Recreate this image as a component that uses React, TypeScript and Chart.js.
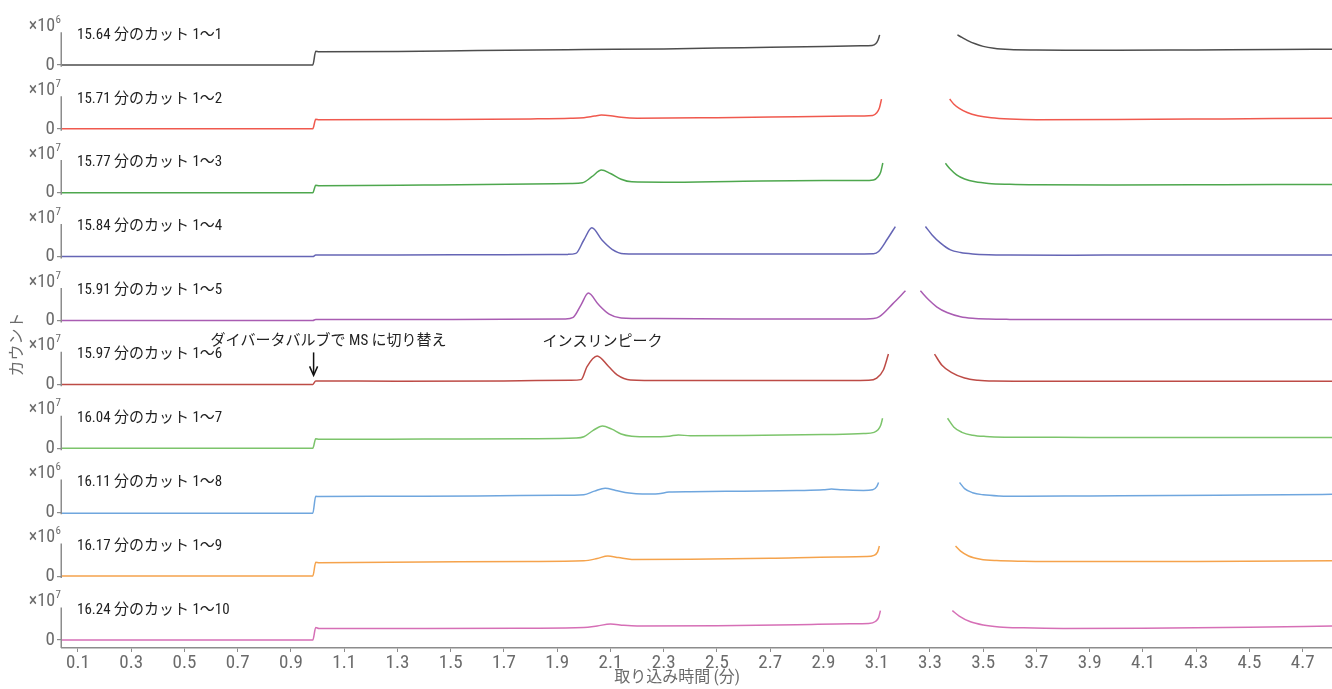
import { useEffect, useRef } from 'react';
import { Chart, registerables } from 'chart.js';

Chart.register(...registerables);

const FONT = "'Roboto Condensed', 'Liberation Sans Narrow', 'DejaVu Sans Condensed', 'Noto Sans CJK JP', sans-serif";
const TEXT_FONT = "'Roboto Condensed', 'Liberation Sans Narrow', 'Noto Sans CJK JP', sans-serif";
const TICK_COLOR = '#6b6b6b';
const AXIS_COLOR = '#8c8c8c';

const PANEL_LABELS = [
  '15.64 分のカット 1〜1',
  '15.71 分のカット 1〜2',
  '15.77 分のカット 1〜3',
  '15.84 分のカット 1〜4',
  '15.91 分のカット 1〜5',
  '15.97 分のカット 1〜6',
  '16.04 分のカット 1〜7',
  '16.11 分のカット 1〜8',
  '16.17 分のカット 1〜9',
  '16.24 分のカット 1〜10',
];
const EXPONENTS = [6, 7, 7, 7, 7, 7, 7, 6, 6, 7];
const SERIES_COLORS = ['#4d4d4d', '#f0594e', '#4ea74e', '#6565b5', '#a95cb2', '#bd4b46', '#7cc46b', '#6fa6de', '#f5a34c', '#d66fb6'];
const X_TICKS = [0.1, 0.3, 0.5, 0.7, 0.9, 1.1, 1.3, 1.5, 1.7, 1.9, 2.1, 2.3, 2.5, 2.7, 2.9, 3.1, 3.3, 3.5, 3.7, 3.9, 4.1, 4.3, 4.5, 4.7];
const X_MIN = 0.04;
const X_MAX = 4.81;
const Y_MIN = -0.25;
const Y_MAX = 1.75;
const SWITCH_TIME = 0.985;
const PEAK_TIME = 2.07;
const X_TITLE = '取り込み時間 (分)';
const Y_TITLE = 'カウント';
const SWITCH_NOTE = 'ダイバータバルブで MS に切り替え';
const PEAK_NOTE = 'インスリンピーク';

type Pt = [number, number | null];

const CUT1: Pt[] = [[0.04,0],[0.982,0],[0.993,0.43],[1.005,0.41],[1.3,0.42],[1.6,0.45],[2.0,0.48],[2.3,0.50],[2.6,0.54],[2.9,0.58],[3.04,0.60],[3.083,0.61],[3.096,0.66],[3.105,0.78],[3.111,0.94],[3.25,null],[3.403,0.94],[3.42,0.86],[3.44,0.77],[3.47,0.66],[3.50,0.58],[3.54,0.52],[3.6,0.48],[3.7,0.465],[3.85,0.46],[4.0,0.46],[4.3,0.47],[4.6,0.48],[4.81,0.49]];
const CUT2: Pt[] = [[0.04,0],[0.982,0],[0.993,0.30],[1.005,0.28],[1.4,0.29],[1.8,0.31],[1.95,0.33],[2.0,0.35],[2.04,0.40],[2.066,0.43],[2.1,0.41],[2.14,0.36],[2.2,0.33],[2.5,0.35],[2.8,0.38],[3.0,0.40],[3.085,0.42],[3.1,0.50],[3.11,0.65],[3.118,0.93],[3.25,null],[3.374,0.93],[3.39,0.77],[3.41,0.64],[3.44,0.51],[3.48,0.41],[3.53,0.345],[3.6,0.305],[3.7,0.285],[4.0,0.29],[4.4,0.31],[4.81,0.33]];
const CUT3: Pt[] = [[0.04,0],[0.982,0],[0.993,0.23],[1.005,0.22],[1.4,0.24],[1.8,0.27],[1.95,0.29],[1.995,0.31],[2.03,0.50],[2.066,0.71],[2.1,0.60],[2.14,0.42],[2.18,0.34],[2.3,0.33],[2.6,0.36],[2.9,0.38],[3.05,0.38],[3.088,0.40],[3.105,0.50],[3.115,0.65],[3.123,0.93],[3.24,null],[3.358,0.92],[3.375,0.75],[3.40,0.56],[3.43,0.43],[3.47,0.34],[3.52,0.29],[3.6,0.265],[3.7,0.25],[4.0,0.24],[4.4,0.25],[4.81,0.26]];
const CUT4: Pt[] = [[0.04,0],[0.982,0],[0.993,0.05],[1.3,0.05],[1.7,0.06],[1.94,0.07],[1.97,0.10],[2.0,0.52],[2.03,0.90],[2.068,0.52],[2.106,0.23],[2.15,0.09],[2.25,0.08],[2.6,0.08],[2.9,0.08],[3.088,0.09],[3.107,0.16],[3.14,0.55],[3.17,0.94],[3.23,null],[3.283,0.94],[3.308,0.68],[3.34,0.42],[3.377,0.21],[3.415,0.13],[3.46,0.085],[3.52,0.06],[3.6,0.05],[3.8,0.045],[4.2,0.05],[4.81,0.05]];
const CUT5: Pt[] = [[0.04,0],[0.982,0],[0.993,0.03],[1.3,0.03],[1.7,0.04],[1.93,0.05],[1.96,0.10],[1.99,0.50],[2.017,0.86],[2.055,0.50],[2.095,0.20],[2.14,0.08],[2.25,0.06],[2.6,0.05],[2.9,0.05],[3.06,0.05],[3.088,0.06],[3.11,0.12],[3.16,0.52],[3.208,0.93],[3.236,null],[3.264,0.93],[3.296,0.64],[3.325,0.43],[3.364,0.25],[3.415,0.12],[3.46,0.07],[3.52,0.045],[3.6,0.035],[3.8,0.03],[4.3,0.03],[4.81,0.03]];
const CUT6: Pt[] = [[0.04,0],[0.982,0],[0.993,0.11],[1.3,0.10],[1.7,0.11],[1.95,0.13],[1.99,0.15],[2.012,0.56],[2.05,0.89],[2.093,0.56],[2.125,0.30],[2.175,0.14],[2.3,0.12],[2.6,0.12],[2.9,0.12],[3.07,0.13],[3.1,0.20],[3.125,0.45],[3.144,0.95],[3.23,null],[3.317,0.95],[3.345,0.60],[3.38,0.38],[3.43,0.20],[3.48,0.13],[3.54,0.105],[3.65,0.10],[3.9,0.10],[4.3,0.10],[4.81,0.10]];
const CUT7: Pt[] = [[0.04,0],[0.982,0],[0.993,0.30],[1.005,0.28],[1.4,0.29],[1.8,0.30],[1.97,0.32],[2.0,0.36],[2.035,0.56],[2.07,0.70],[2.105,0.60],[2.14,0.45],[2.18,0.38],[2.25,0.36],[2.32,0.38],[2.355,0.42],[2.4,0.39],[2.6,0.40],[2.9,0.43],[3.05,0.46],[3.09,0.50],[3.105,0.58],[3.115,0.72],[3.122,0.94],[3.24,null],[3.366,0.94],[3.39,0.66],[3.42,0.50],[3.46,0.41],[3.51,0.37],[3.58,0.35],[3.7,0.345],[3.9,0.34],[4.3,0.34],[4.81,0.34]];
const CUT8: Pt[] = [[0.04,-0.03],[0.982,-0.03],[0.993,0.50],[1.005,0.49],[1.3,0.50],[1.6,0.51],[1.9,0.53],[2.0,0.55],[2.04,0.66],[2.08,0.75],[2.12,0.68],[2.17,0.60],[2.22,0.57],[2.28,0.58],[2.32,0.63],[2.4,0.64],[2.6,0.66],[2.8,0.68],[2.9,0.70],[2.93,0.73],[2.97,0.70],[3.05,0.68],[3.085,0.70],[3.1,0.80],[3.107,0.93],[3.26,null],[3.411,0.93],[3.43,0.74],[3.46,0.61],[3.5,0.545],[3.56,0.51],[3.65,0.50],[3.9,0.51],[4.2,0.52],[4.5,0.54],[4.81,0.56]];
const CUT9: Pt[] = [[0.04,0],[0.982,0],[0.993,0.43],[1.005,0.42],[1.4,0.44],[1.8,0.46],[2.0,0.48],[2.05,0.55],[2.09,0.63],[2.13,0.58],[2.18,0.52],[2.4,0.53],[2.7,0.56],[2.95,0.60],[3.06,0.61],[3.09,0.65],[3.103,0.75],[3.11,0.94],[3.26,null],[3.396,0.94],[3.415,0.78],[3.445,0.63],[3.49,0.53],[3.55,0.485],[3.65,0.465],[3.9,0.455],[4.3,0.46],[4.81,0.48]];
const CUT10: Pt[] = [[0.04,0],[0.982,0],[0.993,0.39],[1.005,0.36],[1.4,0.36],[1.8,0.37],[2.0,0.39],[2.05,0.44],[2.1,0.50],[2.15,0.46],[2.2,0.44],[2.5,0.45],[2.8,0.48],[3.0,0.51],[3.07,0.52],[3.095,0.58],[3.107,0.70],[3.114,0.92],[3.25,null],[3.384,0.92],[3.41,0.75],[3.452,0.57],[3.5,0.47],[3.56,0.41],[3.65,0.38],[3.8,0.36],[4.1,0.37],[4.5,0.40],[4.81,0.44]];

const SERIES: Pt[][] = [CUT1, CUT2, CUT3, CUT4, CUT5, CUT6, CUT7, CUT8, CUT9, CUT10];

const overlayPlugin = {
  id: 'overlay',
  afterDraw(chart: any) {
    const ctx: CanvasRenderingContext2D = chart.ctx;
    const area = chart.chartArea;
    const xs = chart.scales.x;
    const n = PANEL_LABELS.length;
    ctx.save();
    for (let i = 0; i < n; i++) {
      const ys = chart.scales['y' + i];
      const zero = ys.getPixelForValue(0);
      const top = ys.getPixelForValue(1.02);
      const bottom = i === n - 1 ? area.bottom : ys.getPixelForValue(-0.06);
      ctx.strokeStyle = AXIS_COLOR;
      ctx.lineWidth = 1.5;
      ctx.beginPath();
      ctx.moveTo(area.left - 0.75, top);
      ctx.lineTo(area.left - 0.75, bottom);
      ctx.stroke();
      const sup = String(EXPONENTS[i]);
      ctx.fillStyle = TICK_COLOR;
      ctx.textAlign = 'left';
      ctx.textBaseline = 'alphabetic';
      ctx.font = `11px ${FONT}`;
      const sw = ctx.measureText(sup).width;
      ctx.font = `18px ${FONT}`;
      const mw = ctx.measureText('×10').width;
      const right = area.left - 1;
      const base = zero - 34;
      ctx.fillText('×10', right - sw - mw - 0.5, base);
      ctx.font = `11px ${FONT}`;
      ctx.fillText(sup, right - sw, base - 8);
      ctx.fillStyle = '#222222';
      ctx.font = `15px ${TEXT_FONT}`;
      ctx.textBaseline = 'middle';
      ctx.fillText(PANEL_LABELS[i], area.left + 15, zero - 30);
    }
    const y6 = chart.scales.y5;
    const z6 = y6.getPixelForValue(0);
    const ax = xs.getPixelForValue(SWITCH_TIME);
    ctx.strokeStyle = '#111111';
    ctx.lineWidth = 1.5;
    ctx.beginPath();
    ctx.moveTo(ax, z6 - 32);
    ctx.lineTo(ax, z6 - 11);
    ctx.stroke();
    ctx.beginPath();
    ctx.moveTo(ax - 4, z6 - 18);
    ctx.lineTo(ax, z6 - 9);
    ctx.lineTo(ax + 4, z6 - 18);
    ctx.stroke();
    ctx.font = `15px ${TEXT_FONT}`;
    ctx.fillStyle = '#222222';
    ctx.textBaseline = 'middle';
    ctx.textAlign = 'left';
    ctx.fillText(SWITCH_NOTE, ax - 103, z6 - 43);
    ctx.textAlign = 'center';
    ctx.fillText(PEAK_NOTE, xs.getPixelForValue(PEAK_TIME), z6 - 42);
    ctx.fillStyle = TICK_COLOR;
    ctx.font = `16px ${TEXT_FONT}`;
    ctx.textAlign = 'center';
    ctx.textBaseline = 'middle';
    ctx.fillText(X_TITLE, xs.getPixelForValue(2.35), area.bottom + 30);
    ctx.save();
    ctx.translate(18, (area.top + area.bottom) / 2 + 16);
    ctx.rotate(-Math.PI / 2);
    ctx.fillText(Y_TITLE, 0, 0);
    ctx.restore();
    ctx.restore();
  },
};

export default function App() {
  const canvasRef = useRef<HTMLCanvasElement | null>(null);

  useEffect(() => {
    const canvas = canvasRef.current;
    if (!canvas) return;
    const n = SERIES.length;
    const scales: any = {
      x: {
        type: 'linear',
        min: X_MIN,
        max: X_MAX,
        afterBuildTicks: (s: any) => {
          s.ticks = X_TICKS.map((v) => ({ value: v }));
        },
        afterFit: (s: any) => {
          s.height = 41;
          s.paddingLeft = 0;
          s.paddingRight = 0;
        },
        ticks: {
          autoSkip: false,
          maxRotation: 0,
          padding: 0,
          color: TICK_COLOR,
          font: { family: FONT, size: 19 },
          callback: (v: any) => Number(v).toFixed(1),
        },
        grid: { drawOnChartArea: false, drawTicks: true, tickLength: 4, color: AXIS_COLOR, lineWidth: 1 },
        border: { display: true, color: AXIS_COLOR, width: 1.5 },
      },
    };
    for (let i = 0; i < n; i++) {
      scales['y' + i] = {
        type: 'linear',
        position: 'left',
        stack: 'panels',
        stackWeight: 1,
        weight: n - i,
        min: Y_MIN,
        max: Y_MAX,
        afterBuildTicks: (s: any) => {
          s.ticks = [{ value: 0 }];
        },
        afterFit: (s: any) => {
          s.width = 62;
          s.paddingTop = 0;
          s.paddingBottom = 0;
        },
        ticks: {
          padding: 2,
          color: TICK_COLOR,
          font: { family: FONT, size: 19 },
          callback: () => '0',
        },
        grid: { drawOnChartArea: false, drawTicks: true, tickLength: 5, color: AXIS_COLOR, lineWidth: 1.2 },
        border: { display: false },
      };
    }
    const datasets = SERIES.map((pts, i) => ({
      label: PANEL_LABELS[i],
      data: pts.map(([t, v]) => ({ x: t, y: v })),
      yAxisID: 'y' + i,
      xAxisID: 'x',
      borderColor: SERIES_COLORS[i],
      backgroundColor: SERIES_COLORS[i],
      borderWidth: 1.5,
      pointRadius: 0,
      cubicInterpolationMode: 'monotone',
      spanGaps: false,
      fill: false,
    }));
    const chart = new Chart(canvas, {
      type: 'line',
      data: { datasets } as any,
      options: {
        responsive: false,
        animation: false,
        layout: { padding: { top: 9, left: 0, right: 0, bottom: 0 } },
        plugins: { legend: { display: false }, tooltip: { enabled: false } },
        scales,
      } as any,
      plugins: [overlayPlugin],
    });
    return () => chart.destroy();
  }, []);

  return (
    <div style={{ position: 'absolute', left: 0, top: 0, width: 1332, height: 689, background: '#ffffff' }}>
      <canvas ref={canvasRef} width={1332} height={689} style={{ display: 'block' }} />
    </div>
  );
}
